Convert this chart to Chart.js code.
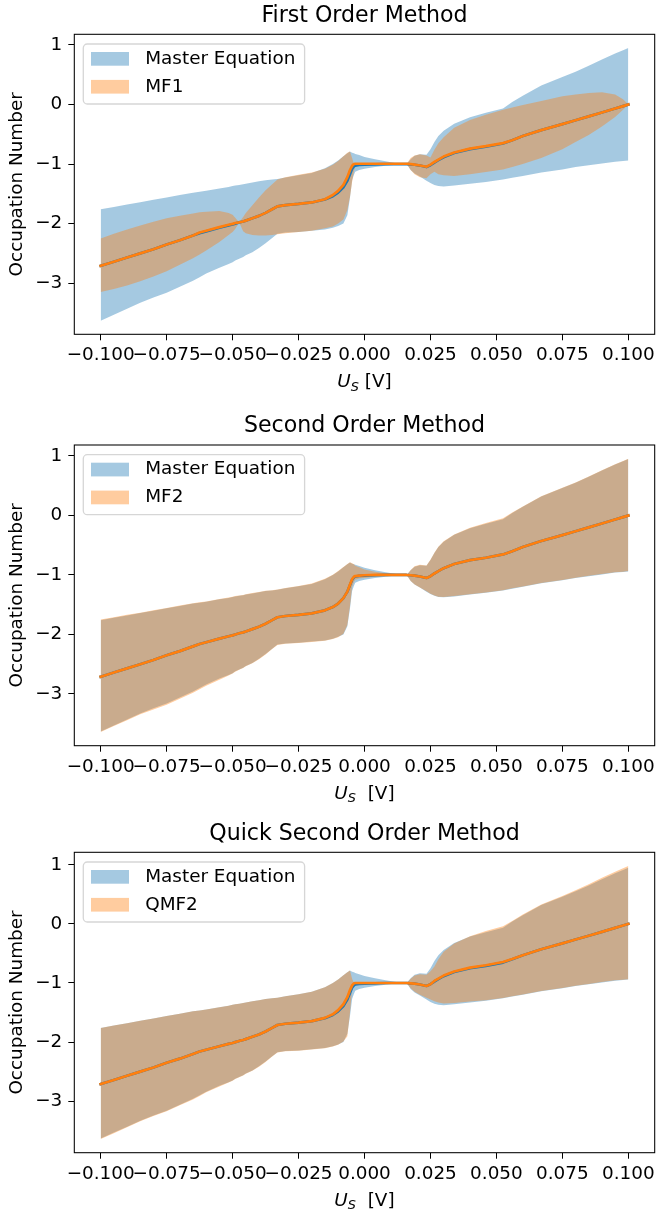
<!DOCTYPE html>
<html><head><meta charset="utf-8">
<script src="https://cdn.jsdelivr.net/npm/chart.js@4.4.0/dist/chart.umd.min.js"></script>
<style>
html,body{margin:0;padding:0;background:#fff;}
#wrap{position:relative;width:656px;height:1210px;overflow:hidden;}
canvas{position:absolute;left:0;}
</style></head><body>
<div id="wrap">
<canvas id="c0" width="656" height="410" style="top:0px"></canvas>
<canvas id="c1" width="656" height="408" style="top:410px"></canvas>
<canvas id="c2" width="656" height="392" style="top:818px"></canvas>
</div>
<script>
// ---------------- data ----------------
const xs = [
 -0.1, -0.095, -0.09, -0.085, -0.08, -0.075, -0.07, -0.065, -0.0625, -0.06,
 -0.055, -0.0515, -0.05, -0.049, -0.0475, -0.046, -0.045, -0.0425, -0.04, -0.0375,
 -0.035, -0.033, -0.03, -0.025, -0.02, -0.015, -0.012, -0.01, -0.008, -0.0065,
 -0.0055, -0.0047, -0.004, -0.0035, -0.002, 0, 0.004, 0.008, 0.012, 0.016,
 0.0175, 0.019, 0.021, 0.0235, 0.025, 0.0265, 0.028, 0.03, 0.034, 0.04,
 0.046, 0.0525, 0.056, 0.06, 0.067, 0.075, 0.08, 0.085, 0.09, 0.095,
 0.098, 0.1];

const meMean = [
 -2.71, -2.64, -2.57, -2.50, -2.43, -2.35, -2.28, -2.20, -2.16, -2.13,
 -2.07, -2.03, -2.015, -2.0, -1.98, -1.965, -1.95, -1.91, -1.87, -1.82,
 -1.76, -1.71, -1.69, -1.67, -1.645, -1.595, -1.54, -1.48, -1.39, -1.28,
 -1.17, -1.08, -1.04, -1.025, -1.015, -1.01, -1.005, -1.0, -1.0, -1.0,
 -1.005, -1.012, -1.025, -1.05, -1.02, -0.975, -0.935, -0.885, -0.815, -0.75,
 -0.71, -0.655, -0.60, -0.53, -0.43, -0.33, -0.265, -0.2, -0.135, -0.068,
 -0.027, 0.0];
const meUpper = [
 -1.76, -1.72, -1.68, -1.64, -1.60, -1.56, -1.52, -1.48, -1.465, -1.45,
 -1.41, -1.385, -1.37, -1.36, -1.35, -1.34, -1.33, -1.31, -1.29, -1.27,
 -1.26, -1.25, -1.225, -1.19, -1.15, -1.07, -1.0, -0.94, -0.87, -0.82,
 -0.79, -0.81, -0.82, -0.83, -0.85, -0.88, -0.92, -0.955, -0.985, -1.0,
 -0.92, -0.86, -0.835, -0.845, -0.75, -0.63, -0.53, -0.44, -0.325, -0.215,
 -0.14, -0.065, 0.04, 0.145, 0.32, 0.46, 0.55, 0.65, 0.755, 0.855,
 0.91, 0.95];
const meLower = [
 -3.63, -3.53, -3.43, -3.33, -3.24, -3.16, -3.06, -2.96, -2.90, -2.84,
 -2.74, -2.68, -2.65, -2.62, -2.59, -2.56, -2.53, -2.48, -2.41, -2.33,
 -2.24, -2.17, -2.15, -2.14, -2.12, -2.10, -2.07, -2.04, -2.0, -1.86,
 -1.56, -1.27, -1.18, -1.13, -1.10, -1.08, -1.05, -1.03, -1.01, -1.0,
 -1.1, -1.16, -1.21, -1.28, -1.32, -1.35, -1.37, -1.375, -1.36, -1.33,
 -1.30, -1.26, -1.23, -1.20, -1.14, -1.09, -1.05, -1.02, -0.99, -0.96,
 -0.95, -0.94];

const mf1Mean = [
 -2.71, -2.64, -2.57, -2.50, -2.43, -2.35, -2.28, -2.20, -2.15, -2.12,
 -2.06, -2.02, -2.005, -1.99, -1.98, -1.965, -1.95, -1.91, -1.87, -1.82,
 -1.76, -1.71, -1.69, -1.67, -1.645, -1.59, -1.52, -1.45, -1.35, -1.22,
 -1.10, -1.03, -1.0, -0.995, -0.995, -0.995, -0.995, -0.995, -0.995, -0.995,
 -1.0, -1.01, -1.025, -1.045, -1.01, -0.965, -0.925, -0.875, -0.805, -0.74,
 -0.70, -0.648, -0.60, -0.53, -0.43, -0.33, -0.265, -0.2, -0.135, -0.068,
 -0.027, 0.0];
const mf1Upper = [
 -2.25, -2.17, -2.10, -2.03, -1.97, -1.91, -1.87, -1.83, -1.81, -1.80,
 -1.79, -1.82, -1.85, -1.90, -1.98, -1.89, -1.82, -1.69, -1.56, -1.44,
 -1.34, -1.26, -1.22, -1.18, -1.14, -1.08, -1.01, -0.95, -0.87, -0.81,
 -0.79, -0.90, -1.0, -0.995, -0.995, -0.995, -0.995, -0.995, -0.995, -0.995,
 -0.90, -0.855, -0.835, -0.855, -0.89, -0.76, -0.65, -0.55, -0.39, -0.26,
 -0.17, -0.09, -0.05, -0.01, 0.06, 0.14, 0.17, 0.195, 0.205, 0.17,
 0.09, 0.0];
const mf1Lower = [
 -3.15, -3.10, -3.04, -2.97, -2.89, -2.80, -2.69, -2.58, -2.52, -2.45,
 -2.31, -2.19, -2.14, -2.09, -1.98, -2.13, -2.16, -2.19, -2.20, -2.20,
 -2.19, -2.18, -2.16, -2.14, -2.12, -2.08, -2.05, -2.0, -1.93, -1.77,
 -1.55, -1.30, -1.12, -1.03, -0.995, -0.995, -0.995, -0.995, -0.995, -0.995,
 -1.10, -1.17, -1.22, -1.24, -1.17, -1.13, -1.17, -1.19, -1.20, -1.17,
 -1.135, -1.09, -1.05, -1.0, -0.90, -0.75, -0.63, -0.51, -0.37, -0.21,
 -0.09, 0.0];

const mf2Mean = [
 -2.71, -2.64, -2.57, -2.50, -2.43, -2.35, -2.28, -2.20, -2.16, -2.13,
 -2.07, -2.03, -2.015, -2.0, -1.98, -1.965, -1.95, -1.91, -1.87, -1.82,
 -1.76, -1.71, -1.69, -1.67, -1.645, -1.595, -1.54, -1.48, -1.39, -1.28,
 -1.16, -1.07, -1.03, -1.018, -1.01, -1.005, -1.0, -1.0, -1.0, -1.0,
 -1.005, -1.012, -1.025, -1.05, -1.02, -0.975, -0.935, -0.885, -0.815, -0.75,
 -0.71, -0.655, -0.60, -0.53, -0.43, -0.33, -0.265, -0.2, -0.135, -0.068,
 -0.027, 0.0];
const mf2Upper = [
 -1.75, -1.71, -1.67, -1.635, -1.595, -1.555, -1.515, -1.475, -1.46, -1.445,
 -1.405, -1.38, -1.365, -1.355, -1.345, -1.335, -1.325, -1.305, -1.285, -1.265,
 -1.255, -1.245, -1.22, -1.185, -1.145, -1.065, -0.995, -0.935, -0.865, -0.815,
 -0.785, -0.805, -0.82, -0.845, -0.87, -0.91, -0.945, -0.97, -0.99, -1.0,
 -0.915, -0.855, -0.83, -0.84, -0.745, -0.625, -0.525, -0.435, -0.32, -0.205,
 -0.125, -0.045, 0.05, 0.15, 0.325, 0.465, 0.555, 0.655, 0.76, 0.86,
 0.915, 0.955];
const mf2Lower = [
 -3.64, -3.54, -3.44, -3.34, -3.26, -3.18, -3.08, -2.98, -2.92, -2.86,
 -2.76, -2.69, -2.655, -2.625, -2.595, -2.565, -2.535, -2.485, -2.415, -2.335,
 -2.245, -2.175, -2.155, -2.145, -2.125, -2.105, -2.075, -2.045, -1.99, -1.84,
 -1.52, -1.2, -1.12, -1.08, -1.06, -1.05, -1.03, -1.015, -1.005, -1.0,
 -1.1, -1.16, -1.21, -1.275, -1.315, -1.345, -1.365, -1.37, -1.355, -1.325,
 -1.295, -1.255, -1.225, -1.195, -1.135, -1.085, -1.045, -1.015, -0.985, -0.955,
 -0.945, -0.935];

const qmf2Mean = [
 -2.71, -2.64, -2.57, -2.50, -2.43, -2.35, -2.28, -2.20, -2.16, -2.13,
 -2.07, -2.03, -2.015, -2.0, -1.98, -1.965, -1.95, -1.91, -1.87, -1.82,
 -1.76, -1.71, -1.69, -1.67, -1.645, -1.59, -1.53, -1.46, -1.36, -1.24,
 -1.12, -1.04, -1.005, -1.0, -1.0, -1.0, -1.0, -1.0, -1.0, -1.0,
 -1.005, -1.012, -1.025, -1.05, -1.02, -0.965, -0.925, -0.875, -0.805, -0.74,
 -0.70, -0.645, -0.595, -0.53, -0.43, -0.33, -0.265, -0.2, -0.135, -0.068,
 -0.027, 0.0];
const qmf2Upper = [
 -1.76, -1.72, -1.68, -1.64, -1.60, -1.56, -1.52, -1.48, -1.465, -1.45,
 -1.41, -1.385, -1.37, -1.36, -1.35, -1.34, -1.33, -1.31, -1.29, -1.27,
 -1.26, -1.25, -1.225, -1.19, -1.15, -1.07, -1.0, -0.94, -0.87, -0.82,
 -0.79, -0.93, -1.0, -1.0, -1.0, -1.0, -1.0, -1.0, -1.0, -1.0,
 -0.93, -0.875, -0.85, -0.86, -0.80, -0.72, -0.60, -0.47, -0.33, -0.21,
 -0.12, -0.04, 0.05, 0.16, 0.33, 0.47, 0.57, 0.67, 0.78, 0.88,
 0.94, 0.98];
const qmf2Lower = [
 -3.64, -3.54, -3.44, -3.34, -3.25, -3.17, -3.07, -2.97, -2.91, -2.85,
 -2.75, -2.685, -2.655, -2.625, -2.595, -2.565, -2.535, -2.485, -2.415, -2.335,
 -2.245, -2.175, -2.155, -2.145, -2.125, -2.105, -2.075, -2.045, -1.99, -1.9,
 -1.5, -1.1, -1.005, -1.0, -1.0, -1.0, -1.0, -1.0, -1.0, -1.0,
 -1.09, -1.15, -1.2, -1.25, -1.28, -1.31, -1.33, -1.345, -1.34, -1.315,
 -1.29, -1.255, -1.225, -1.195, -1.135, -1.085, -1.045, -1.015, -0.985, -0.955,
 -0.945, -0.935];

const xTicks = [-0.1, -0.075, -0.05, -0.025, 0, 0.025, 0.05, 0.075, 0.1];
const xTickLabels = ['\u22120.100', '\u22120.075', '\u22120.050', '\u22120.025', '0.000', '0.025', '0.050', '0.075', '0.100'];
const yTicks = [-3, -2, -1, 0, 1];
const yTickLabels = ['\u22123', '\u22122', '\u22121', '0', '1'];

const titles = ['First Order Method', 'Second Order Method', 'Quick Second Order Method'];
const refName = 'Master Equation';
const methodNames = ['MF1', 'MF2', 'QMF2'];
const yAxisTitle = 'Occupation Number';
const xLabelMain = 'U';
const xLabelSub = 'S';
const xLabelUnits = [' [V]', '  [V]', '  [V]'];

const methodSeries = [
  {mean: mf1Mean, upper: mf1Upper, lower: mf1Lower},
  {mean: mf2Mean, upper: mf2Upper, lower: mf2Lower},
  {mean: qmf2Mean, upper: qmf2Upper, lower: qmf2Lower}
];

// ---------------- layout / style ----------------
const canvasH = [410, 408, 392];
const areaTop = [34.3, 35, 34.3];
const areaBottom = [334.3, 335.7, 334.7];
const AXIS_W = 74.3;
const FS = 18.4;      // tick / legend / label font size
const TFS = 22.1;     // title font size
const C0 = '#1f77b4', C1 = '#ff7f0e';
const C0F = 'rgba(31,119,180,0.4)', C1F = 'rgba(255,127,14,0.4)';
const FONT = '"DejaVu Sans", sans-serif';

Chart.defaults.font.family = FONT;
Chart.defaults.color = '#000';

function pts(arr) { return xs.map((x, i) => ({x: x, y: arr[i]})); }

function roundRectPath(ctx, x, y, w, h, r) {
  ctx.beginPath();
  ctx.moveTo(x + r, y);
  ctx.arcTo(x + w, y, x + w, y + h, r);
  ctx.arcTo(x + w, y + h, x, y + h, r);
  ctx.arcTo(x, y + h, x, y, r);
  ctx.arcTo(x, y, x + w, y, r);
  ctx.closePath();
}

const mplPlugin = {
  id: 'mpl',
  beforeDraw(chart) {
    const ctx = chart.ctx, a = chart.chartArea, lg = chart.legend;
    if (!lg || !lg.legendItems) return;
    const pad = lg.options.labels.padding;
    const fs = lg.options.labels.font.size;
    const swLeft = a.left + 16.7;
    const row1 = a.top + 24.55;
    lg.left = swLeft - pad;
    lg.top = row1 - fs / 2 - pad;
    lg.bottom = a.bottom;
    ctx.save();
    ctx.font = fs + 'px ' + FONT;
    let maxW = 0;
    lg.legendItems.forEach(it => { maxW = Math.max(maxW, ctx.measureText(it.text).width); });
    const boxW = lg.options.labels.boxWidth;
    lg.right = swLeft + boxW + fs / 2 + maxW + pad;
    const fx = a.left + 9, fy = a.top + 9.7;
    const fw = swLeft + boxW + fs / 2 + maxW + 9.3 - fx;
    const fh = 60;
    roundRectPath(ctx, fx, fy, fw, fh, 4);
    ctx.fillStyle = 'rgba(255,255,255,0.8)';
    ctx.fill();
    ctx.lineWidth = 1.3;
    ctx.strokeStyle = 'rgba(204,204,204,0.8)';
    ctx.stroke();
    lg.legendItems.forEach((it, k) => {
      ctx.fillStyle = it.swatch;
      ctx.fillRect(swLeft, row1 + k * (fs + pad) - 6.85, 38, 13.7);
    });
    ctx.restore();
  },
  afterDraw(chart) {
    const ctx = chart.ctx, a = chart.chartArea;
    const idx = chart.options.plugins.mpl.index;
    ctx.save();
    ctx.strokeStyle = '#000';
    ctx.lineWidth = 1.05;
    ctx.strokeRect(a.left, a.top, a.right - a.left, a.bottom - a.top);
    const base = a.bottom + 52.8;
    const sub = FS * 0.7;
    ctx.fillStyle = '#000';
    ctx.textBaseline = 'alphabetic';
    ctx.textAlign = 'left';
    ctx.font = 'italic ' + FS + 'px ' + FONT; const wU = ctx.measureText(xLabelMain).width;
    ctx.font = 'italic ' + sub + 'px ' + FONT; const wS = ctx.measureText(xLabelSub).width;
    ctx.font = FS + 'px ' + FONT; const wR = ctx.measureText(xLabelUnits[idx]).width;
    let x = (a.left + a.right) / 2 - (wU + wS + wR) / 2;
    ctx.font = 'italic ' + FS + 'px ' + FONT; ctx.fillText(xLabelMain, x, base); x += wU;
    ctx.font = 'italic ' + sub + 'px ' + FONT; ctx.fillText(xLabelSub, x, base + 3.5); x += wS;
    ctx.font = FS + 'px ' + FONT; ctx.fillText(xLabelUnits[idx], x, base);
    ctx.restore();
  }
};

function makeChart(k) {
  const s = methodSeries[k];
  const all = [].concat(meUpper, meLower, s.upper, s.lower, meMean, s.mean);
  const dMin = Math.min.apply(null, all), dMax = Math.max.apply(null, all);
  const yPad = 0.05 * (dMax - dMin);
  const xMin = Math.min.apply(null, xs), xMax = Math.max.apply(null, xs);
  const xPad = 0.05 * (xMax - xMin);
  const H = canvasH[k];
  const datasets = [
    {label: methodNames[k] + ' mean', data: pts(s.mean), borderColor: C1, borderWidth: 2.7, fill: false},
    {label: refName + ' mean', data: pts(meMean), borderColor: C0, borderWidth: 2.7, fill: false},
    {label: methodNames[k], legendLabel: methodNames[k], legendRank: 2, data: pts(s.upper), borderColor: 'rgba(0,0,0,0)', borderWidth: 0, backgroundColor: C1F, fill: '+1'},
    {label: methodNames[k] + ' lower', data: pts(s.lower), borderColor: 'rgba(0,0,0,0)', borderWidth: 0, fill: false},
    {label: refName, legendLabel: refName, legendRank: 1, data: pts(meUpper), borderColor: 'rgba(0,0,0,0)', borderWidth: 0, backgroundColor: C0F, fill: '+1'},
    {label: refName + ' lower', data: pts(meLower), borderColor: 'rgba(0,0,0,0)', borderWidth: 0, fill: false}
  ];
  const grid = {display: true, drawOnChartArea: false, drawTicks: true, tickLength: 6, tickWidth: 1.05, tickColor: '#000'};
  return new Chart(document.getElementById('c' + k), {
    type: 'line',
    data: {datasets: datasets},
    plugins: [mplPlugin],
    options: {
      responsive: false,
      animation: false,
      devicePixelRatio: 1,
      events: [],
      layout: {padding: {top: 0, left: 0, right: 1.3, bottom: 0}},
      elements: {
        point: {radius: 0, hoverRadius: 0},
        line: {tension: 0, borderJoinStyle: 'round', borderCapStyle: 'square'}
      },
      scales: {
        x: {
          type: 'linear', min: xMin - xPad, max: xMax + xPad,
          afterBuildTicks: sc => { sc.ticks = xTicks.map(v => ({value: v})); },
          afterFit: sc => { sc.height = H - areaBottom[k]; sc.paddingLeft = 0; sc.paddingRight = 0; },
          ticks: {autoSkip: false, maxRotation: 0, minRotation: 0, padding: 4,
                  font: {size: FS}, color: '#000',
                  callback: (v, i) => xTickLabels[i]},
          grid: grid, border: {display: false}
        },
        y: {
          type: 'linear', min: dMin - yPad, max: dMax + yPad,
          afterBuildTicks: sc => { sc.ticks = yTicks.map(v => ({value: v})); },
          afterFit: sc => { sc.width = AXIS_W; sc.paddingTop = 0; sc.paddingBottom = 0; },
          ticks: {padding: 6, font: {size: FS}, color: '#000',
                  callback: (v, i) => yTickLabels[i]},
          title: {display: true, text: yAxisTitle, color: '#000', font: {size: FS}, padding: {top: 6, bottom: 0}},
          grid: grid, border: {display: false}
        }
      },
      plugins: {
        mpl: {index: k},
        tooltip: {enabled: false},
        title: {
          display: true, text: titles[k], fullSize: false, color: '#000',
          font: {size: TFS, weight: 'normal'},
          padding: {top: 3, bottom: areaTop[k] - TFS * 1.2 - 3}
        },
        legend: {
          display: true, position: 'chartArea', align: 'start', fullSize: false,
          labels: {
            boxWidth: 45, boxHeight: 13.7, padding: 9.5, color: '#000',
            font: {size: FS},
            generateLabels: chart => chart.data.datasets
              .map((ds, i) => ({ds: ds, i: i}))
              .filter(o => o.ds.legendLabel)
              .sort((p, q) => p.ds.legendRank - q.ds.legendRank)
              .map(o => ({text: o.ds.legendLabel, fillStyle: 'rgba(0,0,0,0)', strokeStyle: 'rgba(0,0,0,0)',
                          lineWidth: 0, hidden: false, datasetIndex: o.i, fontColor: '#000', swatch: o.ds.backgroundColor}))
          }
        }
      }
    }
  });
}

[0, 1, 2].forEach(makeChart);
</script>
</body></html>
